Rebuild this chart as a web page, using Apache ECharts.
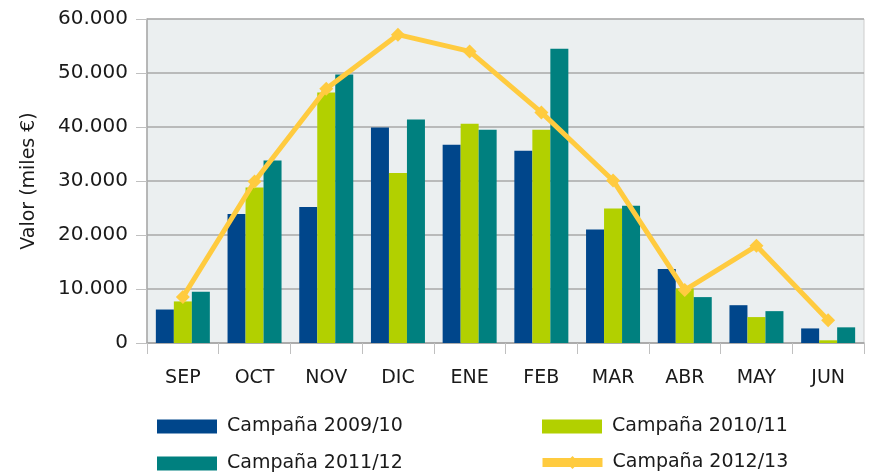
<!DOCTYPE html>
<html>
<head>
<meta charset="utf-8">
<script src="https://cdn.jsdelivr.net/npm/echarts@6/dist/echarts.min.js"></script>
<style>
  html, body { margin: 0; padding: 0; background: #ffffff; }
  #chart { width: 874px; height: 476px; }
</style>
</head>
<body>
<div id="chart"></div>
<script>
// Monthly values (miles €) per campaign
const months = ['SEP', 'OCT', 'NOV', 'DIC', 'ENE', 'FEB', 'MAR', 'ABR', 'MAY', 'JUN'];
const camp0910 = [6200, 23900, 25200, 39900, 36700, 35600, 21000, 13700, 7000, 2700];
const camp1011 = [7700, 28800, 46400, 31500, 40600, 39500, 24900, 10100, 4800, 500];
const camp1112 = [9500, 33800, 49700, 41400, 39500, 54500, 25400, 8500, 5900, 2900];
const camp1213 = [8500, 29900, 47100, 57100, 54000, 42700, 30100, 9800, 18000, 4200];
const seriesNames = ['Campaña 2009/10', 'Campaña 2010/11', 'Campaña 2011/12', 'Campaña 2012/13'];
const yTicks = [0, 10000, 20000, 30000, 40000, 50000, 60000];

const FONT = 'DejaVu Sans';
const colors = ['#00468B', '#B2D000', '#00807F', '#FFCB3F'];

function fmt(v) {
  return v === 0 ? '0' : (v / 1000).toFixed(0) + '.000';
}

function legendAt(name, left, top, isLine) {
  const cfg = {
    data: [name],
    left: left,
    top: top,
    orient: 'horizontal',
    itemWidth: 60,
    itemHeight: 14,
    itemGap: 10,
    textStyle: { fontFamily: FONT, fontSize: 19, color: '#1a1a1a', padding: [0, 0, 0, 5] },
    selectedMode: false
  };
  if (isLine) {
    cfg.lineStyle = { width: 9, color: colors[3] };
    cfg.itemStyle = { color: colors[3] };
    cfg.itemHeight = 16;
  } else {
    cfg.icon = 'rect';
  }
  return cfg;
}

const chart = echarts.init(document.getElementById('chart'), null, { renderer: 'canvas' });
chart.setOption({
  animation: false,
  backgroundColor: '#ffffff',
  grid: {
    left: 147, right: 10, top: 19, bottom: 133,
    show: true, backgroundColor: '#EBEFF0', borderColor: '#CDCDCD', borderWidth: 1
  },
  legend: [
    legendAt(seriesNames[0], 152, 412, false),
    legendAt(seriesNames[1], 537, 412, false),
    legendAt(seriesNames[2], 152, 449, false),
    legendAt(seriesNames[3], 533, 448, true)
  ],
  xAxis: {
    type: 'category',
    data: months,
    axisLine: { show: true, lineStyle: { color: '#A8A8A8', width: 1.5 } },
    axisTick: { show: true, length: 11, alignWithLabel: false, lineStyle: { color: '#C0C0C0', width: 1 } },
    axisLabel: { fontFamily: FONT, fontSize: 19, color: '#1a1a1a', margin: 26 }
  },
  yAxis: {
    type: 'value',
    min: 0, max: 60000, interval: 10000,
    name: 'Valor (miles €)',
    nameLocation: 'middle',
    nameGap: 108,
    nameRotate: 90,
    nameTextStyle: { fontFamily: FONT, fontSize: 19, color: '#1a1a1a' },
    axisLine: { show: true, lineStyle: { color: '#A8A8A8', width: 1.5 } },
    axisTick: { show: true, length: 11, lineStyle: { color: '#C0C0C0', width: 1 } },
    splitLine: { show: true, lineStyle: { color: '#A8A8A8', width: 1.5 } },
    axisLabel: {
      fontFamily: FONT, fontSize: 20, color: '#1a1a1a', margin: 19,
      formatter: function (v) { return yTicks.indexOf(v) >= 0 ? fmt(v) : ''; }
    }
  },
  series: [
    { name: seriesNames[0], type: 'bar', data: camp0910, barWidth: 18, barGap: '0%', itemStyle: { color: colors[0] } },
    { name: seriesNames[1], type: 'bar', data: camp1011, barWidth: 18, barGap: '0%', itemStyle: { color: colors[1] } },
    { name: seriesNames[2], type: 'bar', data: camp1112, barWidth: 18, barGap: '0%', itemStyle: { color: colors[2] } },
    {
      name: seriesNames[3], type: 'line', data: camp1213,
      symbol: 'diamond', symbolSize: 14, showSymbol: true,
      lineStyle: { color: colors[3], width: 5 },
      itemStyle: { color: colors[3] },
      z: 5
    }
  ]
});
</script>
</body>
</html>
